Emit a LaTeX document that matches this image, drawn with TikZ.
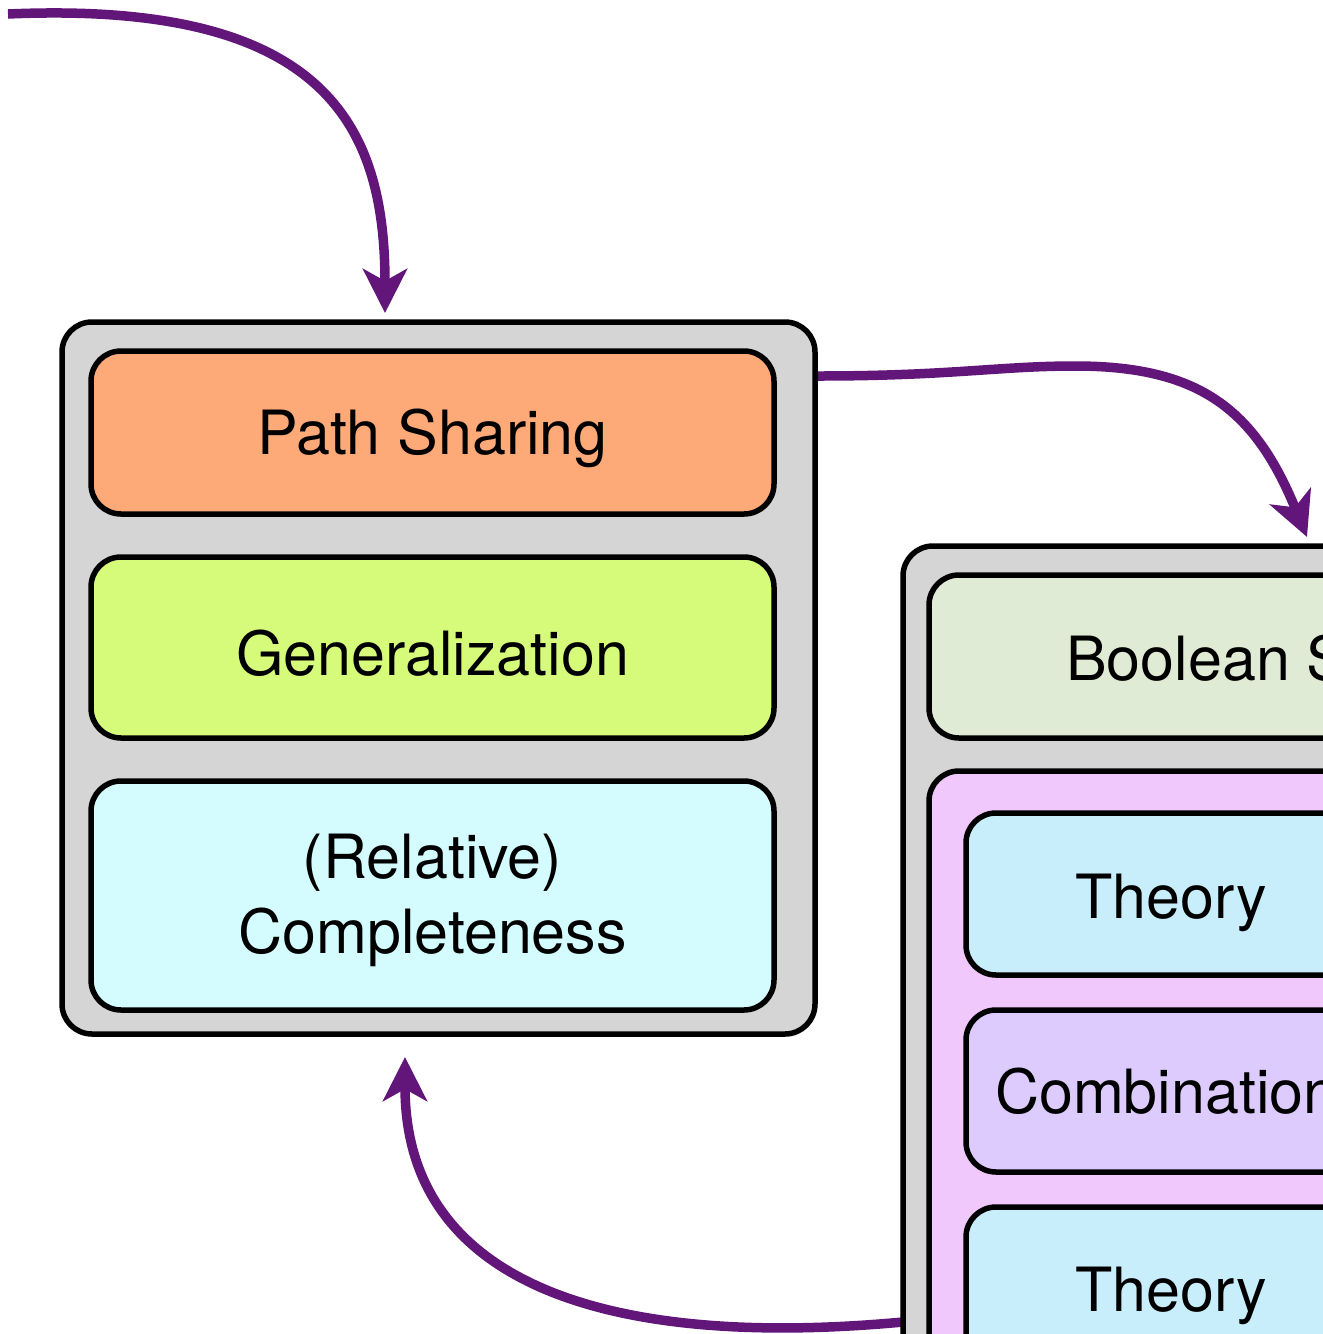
\documentclass[tikz,border=0pt]{standalone}
\usepackage{fontspec}
\setmainfont{TeX Gyre Heros}
\usetikzlibrary{arrows.meta}

\definecolor{panelgray}{RGB}{213,213,213}
\definecolor{pathorange}{RGB}{253,170,120}
\definecolor{genlime}{RGB}{214,250,122}
\definecolor{complcyan}{RGB}{212,252,255}
\definecolor{boolgreen}{RGB}{223,235,212}
\definecolor{smtpink}{RGB}{240,200,252}
\definecolor{theoryblue}{RGB}{200,238,252}
\definecolor{combviolet}{RGB}{220,203,252}
\definecolor{flowpurple}{RGB}{98,22,122}

\tikzset{
  panel/.style={draw=black, line width=5.5pt, rounded corners=30pt, inner sep=0pt},
  layer/.style={draw=black, line width=5.5pt, rounded corners=30pt, inner sep=0pt},
  label/.style={font=\fontsize{61}{75}\selectfont, text=black, inner sep=0pt},
  flow/.style={draw=flowpurple, line width=9.5pt,
    -{Stealth[length=44pt, width=44pt, inset=12pt]}},
}

\begin{document}
\begin{tikzpicture}[x=1pt, y=-1pt]
\path[use as bounding box, clip] (0,0) rectangle (1323,1334);

% anchor points of the three flows
\coordinate (inStart) at (8,14);
\coordinate (inEnd) at (385,313);
\coordinate (midStart) at (818,376);
\coordinate (midEnd) at (1307,537);
\coordinate (backStart) at (903,1322);
\coordinate (backEnd) at (405,1057);

% flows
\draw[flow] (inStart) .. controls (330,0) and (385,130) .. (inEnd);
\draw[flow] (midStart) .. controls (950,376) and (1000,366) .. (1075,366)
                       .. controls (1200,366) and (1255,410) .. (midEnd);
\draw[flow] (backStart) .. controls (600,1350) and (405,1280) .. (backEnd);

% left panel
\draw[panel, fill=panelgray] (62,322) rectangle (815,1034);
\draw[layer, fill=pathorange] (91,351) rectangle (774,514);
\draw[layer, fill=genlime] (91,557) rectangle (774,738);
\draw[layer, fill=complcyan] (91,781) rectangle (774,1010);
\node[label] (ps) at (432.5,438) {Path Sharing};
\node[label] (gen) at (432.5,653) {Generalization};
\node[label, align=center] (compl) at (432.5,900) {(Relative)\\Completeness};

% right panel
\draw[panel, fill=panelgray] (903,546) rectangle (1450,1450);
\draw[layer, fill=boolgreen] (929,575) rectangle (1420,738);
\draw[layer, fill=smtpink] (929,771) rectangle (1420,1450);
\draw[layer, fill=theoryblue] (966,813) rectangle (1390,975);
\draw[layer, fill=combviolet] (966,1010) rectangle (1390,1172);
\draw[layer, fill=theoryblue] (966,1207) rectangle (1390,1450);
\node[label, anchor=base west] (bool) at (1066,680) {Boolean Structure};
\node[label, anchor=base west] (th1) at (1075,918) {Theory};
\node[label, anchor=base west] (comb) at (995,1113) {Combination};
\node[label, anchor=base west] (th2) at (1075,1311) {Theory};
\end{tikzpicture}
\end{document}
